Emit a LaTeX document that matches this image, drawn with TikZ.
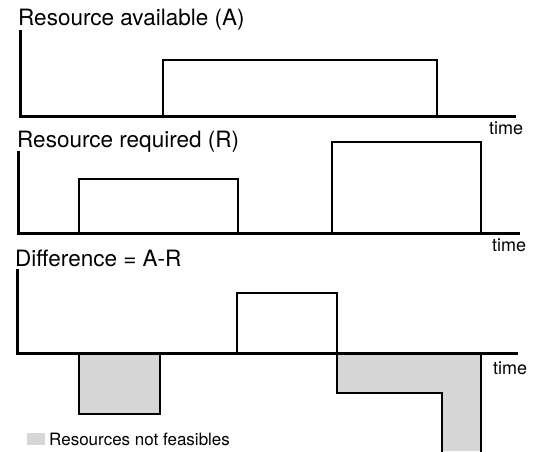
\documentclass[tikz,border=0pt]{standalone}
\usepackage{xcolor}
\usepackage{fontspec}
\setmainfont{TeX Gyre Heros}

\definecolor{infeasible}{HTML}{D6D6D6}

\begin{document}
\begin{tikzpicture}[x=1pt, y=-1pt,
	axis/.style={line width=3pt, line cap=rect},
	level/.style={line width=1.4pt},
	title/.style={anchor=base west, inner sep=0pt, font=\fontsize{22.5}{26}\selectfont},
	timelabel/.style={anchor=base west, inner sep=0pt, font=\fontsize{18}{21}\selectfont}]
	\useasboundingbox (0,0) rectangle (538,451);

	% Resource available
	\begin{scope}
		\node[title] (tA) at (18, 25) {Resource available (A)};
		\draw[axis] (20, 31) -- (20, 116) -- (514, 116);
		\draw[level] (163, 116) -- (163, 60) -- (437, 60) -- (437, 116);
		\node[timelabel] (t1) at (489, 134) {time};
	\end{scope}

	% Resource required
	\begin{scope}
		\node[title] (tR) at (17, 147) {Resource required (R)};
		\draw[axis] (18, 152) -- (18, 233) -- (518, 233);
		\draw[level] (79, 233) -- (79, 179) -- (238, 179) -- (238, 233);
		\draw[level] (332, 233) -- (332, 142) -- (481, 142) -- (481, 233);
		\node[timelabel] (t2) at (492, 251) {time};
	\end{scope}

	% Difference
	\begin{scope}
		\fill[infeasible] (79, 353) rectangle (160, 414);
		\fill[infeasible] (337, 353) -- (337, 393) -- (442, 393) -- (442, 451)
			-- (481, 451) -- (481, 353) -- cycle;
		\draw[level] (79, 353) -- (79, 414) -- (160, 414) -- (160, 353);
		\draw[level] (337, 353) -- (337, 393) -- (442, 393) -- (442, 452);
		\draw[level] (481, 353) -- (481, 452);
		\draw[level] (237, 353) -- (237, 293) -- (337, 293) -- (337, 353);
		\node[title] (tD) at (15, 266) {Difference = A-R};
		\draw[axis] (17, 270) -- (17, 353) -- (516, 353);
		\node[timelabel] (t3) at (493, 374) {time};
	\end{scope}

	% Legend
	\fill[infeasible] (27, 433) rectangle (45, 445);
	\node[anchor=base west, inner sep=0pt, font=\fontsize{17}{20}\selectfont] (leg) at (49, 445) {Resources not feasibles};
\end{tikzpicture}
\end{document}
